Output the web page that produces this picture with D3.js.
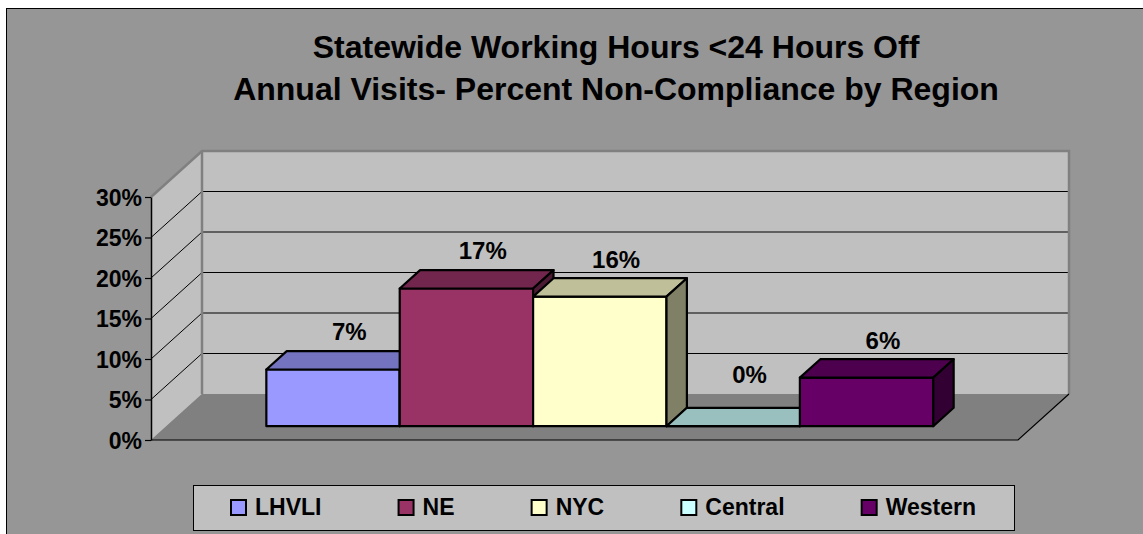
<!DOCTYPE html>
<html>
<head>
<meta charset="utf-8">
<script src="https://cdn.jsdelivr.net/npm/d3@7"></script>
<style>
  body { margin: 0; background: #fff; }
  svg { display: block; font-family: Arial, "Liberation Sans", sans-serif; font-weight: bold; }
</style>
</head>
<body>
<div id="chart"></div>
<script>
const titleLines = ['Statewide Working Hours <24 Hours Off', 'Annual Visits- Percent Non-Compliance by Region'];
const regions = ['LHVLI', 'NE', 'NYC', 'Central', 'Western'];
const values = [7, 17, 16, 0, 6];
const colors = ['#9999FF', '#993366', '#FFFFCC', '#CCFFFF', '#660066'];
const yTicks = [0, 5, 10, 15, 20, 25, 30];

const width = 1143;
const height = 534;
const data = regions.map((r, i) => ({ name: r, value: values[i], color: colors[i] }));

const svg = d3.select('#chart').append('svg')
  .attr('width', width)
  .attr('height', height);

// chart area
svg.append('rect')
  .attr('x', 6.5).attr('y', 8.5)
  .attr('width', width).attr('height', height)
  .attr('fill', '#969696').attr('stroke', '#000');

// title
svg.append('text')
  .attr('text-anchor', 'middle')
  .attr('font-size', 32)
  .selectAll('tspan')
  .data(titleLines)
  .join('tspan')
  .attr('x', 616)
  .attr('y', (d, i) => 58 + i * 42)
  .text(d => d);

// 3d frame
const depth = { dx: 51, dy: -46 };
const front = { left: 151, right: 1018 };
const y = d3.scaleLinear().domain([0, 30]).range([440, 197]);
const x = d3.scaleBand().domain(regions)
  .range([front.left, front.right])
  .paddingInner(0).paddingOuter(0.75);
const barZ0 = 0.3, barZ1 = 0.7;
const pt = (px, py, z) => [px + depth.dx * z, py + depth.dy * z];
const poly = pts => 'M' + pts.map(p => p.join(',')).join('L') + 'Z';
const shade = (c, k) => {
  const rgb = d3.rgb(c);
  return d3.rgb(rgb.r * k, rgb.g * k, rgb.b * k).formatHex();
};

const y0 = y(0), yTop = y(d3.max(yTicks));
const frame = svg.append('g');
// back wall
frame.append('path')
  .attr('d', poly([pt(front.left, yTop, 1), pt(front.right, yTop, 1), pt(front.right, y0, 1), pt(front.left, y0, 1)]))
  .attr('fill', '#C0C0C0');
// side wall
frame.append('path')
  .attr('d', poly([[front.left, yTop], pt(front.left, yTop, 1), pt(front.left, y0, 1), [front.left, y0]]))
  .attr('fill', '#C0C0C0');
// floor
frame.append('path')
  .attr('d', poly([[front.left, y0], pt(front.left, y0, 1), pt(front.right, y0, 1), [front.right, y0]]))
  .attr('fill', '#808080');

// gridlines
const grid = yTicks.filter(t => t > 0 && t < 30);
frame.selectAll('.grid-back')
  .data(grid)
  .join('line').attr('class', 'grid-back')
  .attr('x1', pt(front.left, 0, 1)[0]).attr('x2', pt(front.right, 0, 1)[0])
  .attr('y1', d => pt(0, y(d), 1)[1]).attr('y2', d => pt(0, y(d), 1)[1])
  .attr('stroke', '#000').attr('stroke-width', 1);
frame.selectAll('.grid-side')
  .data(grid)
  .join('line').attr('class', 'grid-side')
  .attr('x1', front.left).attr('y1', d => y(d))
  .attr('x2', pt(front.left, 0, 1)[0]).attr('y2', d => pt(0, y(d), 1)[1])
  .attr('stroke', '#000').attr('stroke-width', 1);

// wall edges
frame.append('path')
  .attr('d', 'M' + [[front.left, yTop], pt(front.left, yTop, 1), pt(front.right, yTop, 1), pt(front.right, y0, 1)].map(p => p.join(',')).join('L'))
  .attr('fill', 'none').attr('stroke', '#808080').attr('stroke-width', 2.5);
frame.append('line')
  .attr('x1', pt(front.left, 0, 1)[0]).attr('x2', pt(front.left, 0, 1)[0])
  .attr('y1', pt(0, yTop, 1)[1]).attr('y2', pt(0, y0, 1)[1])
  .attr('stroke', '#808080').attr('stroke-width', 2.5);
// floor edges
frame.append('path')
  .attr('d', 'M' + [[front.left, y0], [front.right, y0], pt(front.right, y0, 1)].map(p => p.join(',')).join('L'))
  .attr('fill', 'none').attr('stroke', '#000').attr('stroke-width', 1.2);

// y axis
const yAxis = d3.axisLeft(y)
  .tickValues(yTicks)
  .tickFormat(d => d + '%')
  .tickSize(6)
  .tickSizeOuter(0)
  .tickPadding(3);
const yAxisG = svg.append('g')
  .attr('transform', `translate(${front.left},0)`)
  .call(yAxis);
yAxisG.attr('font-family', null).attr('font-size', 23);
yAxisG.select('.domain').attr('stroke', '#000').attr('stroke-width', 1.5);
yAxisG.selectAll('.tick line').attr('stroke', '#000').attr('stroke-width', 1.2);
yAxisG.selectAll('.tick text').attr('fill', '#000').attr('dy', '0.36em');

// bars
const bars = svg.append('g').selectAll('.bar')
  .data(data)
  .join('g').attr('class', 'bar');
bars.each(function(d) {
  const g = d3.select(this);
  const x0 = x(d.name), x1 = x0 + x.bandwidth();
  const yv = y(d.value);
  const faces = [
    { pts: [pt(x0, yv, barZ0), pt(x1, yv, barZ0), pt(x1, y0, barZ0), pt(x0, y0, barZ0)], k: 1 },
    { pts: [pt(x0, yv, barZ0), pt(x0, yv, barZ1), pt(x1, yv, barZ1), pt(x1, yv, barZ0)], k: 0.75 },
    { pts: [pt(x1, yv, barZ0), pt(x1, yv, barZ1), pt(x1, y0, barZ1), pt(x1, y0, barZ0)], k: 0.5 }
  ];
  g.selectAll('path')
    .data(faces)
    .join('path')
    .attr('d', f => poly(f.pts))
    .attr('fill', f => shade(d.color, f.k))
    .attr('stroke', '#000')
    .attr('stroke-width', 2.2)
    .attr('stroke-linejoin', 'round');
});

// data labels
const minLabelValue = 1.7;
svg.append('g').selectAll('.label')
  .data(data)
  .join('text').attr('class', 'label')
  .attr('text-anchor', 'middle')
  .attr('font-size', 24)
  .attr('x', d => pt(x(d.name) + x.bandwidth() / 2, 0, 0.62)[0])
  .attr('y', d => pt(0, y(Math.max(d.value, minLabelValue)), 0.65)[1] - 13)
  .text(d => d.value + '%');

// legend
const legendBox = { x: 193, y: 485, w: 821, h: 45, pad: 38 };
const legend = svg.append('g');
legend.append('rect')
  .attr('x', legendBox.x + 0.5).attr('y', legendBox.y + 0.5)
  .attr('width', legendBox.w).attr('height', legendBox.h)
  .attr('fill', '#C0C0C0').attr('stroke', '#000');
const items = legend.selectAll('.legend-item')
  .data(data)
  .join('g').attr('class', 'legend-item');
items.append('rect')
  .attr('x', 0).attr('y', -15)
  .attr('width', 15).attr('height', 15)
  .attr('fill', d => d.color)
  .attr('stroke', '#000').attr('stroke-width', 2);
items.append('text')
  .attr('x', 24).attr('y', 0)
  .attr('font-size', 23)
  .text(d => d.name);
const itemWidths = [];
items.each(function() { itemWidths.push(this.getBBox().width); });
const gap = (legendBox.w - 2 * legendBox.pad - d3.sum(itemWidths)) / (itemWidths.length - 1);
let cursor = legendBox.x + legendBox.pad;
items.attr('transform', (d, i) => {
  const tx = cursor;
  cursor += itemWidths[i] + gap;
  return `translate(${tx},${legendBox.y + 30})`;
});
</script>
</body>
</html>
